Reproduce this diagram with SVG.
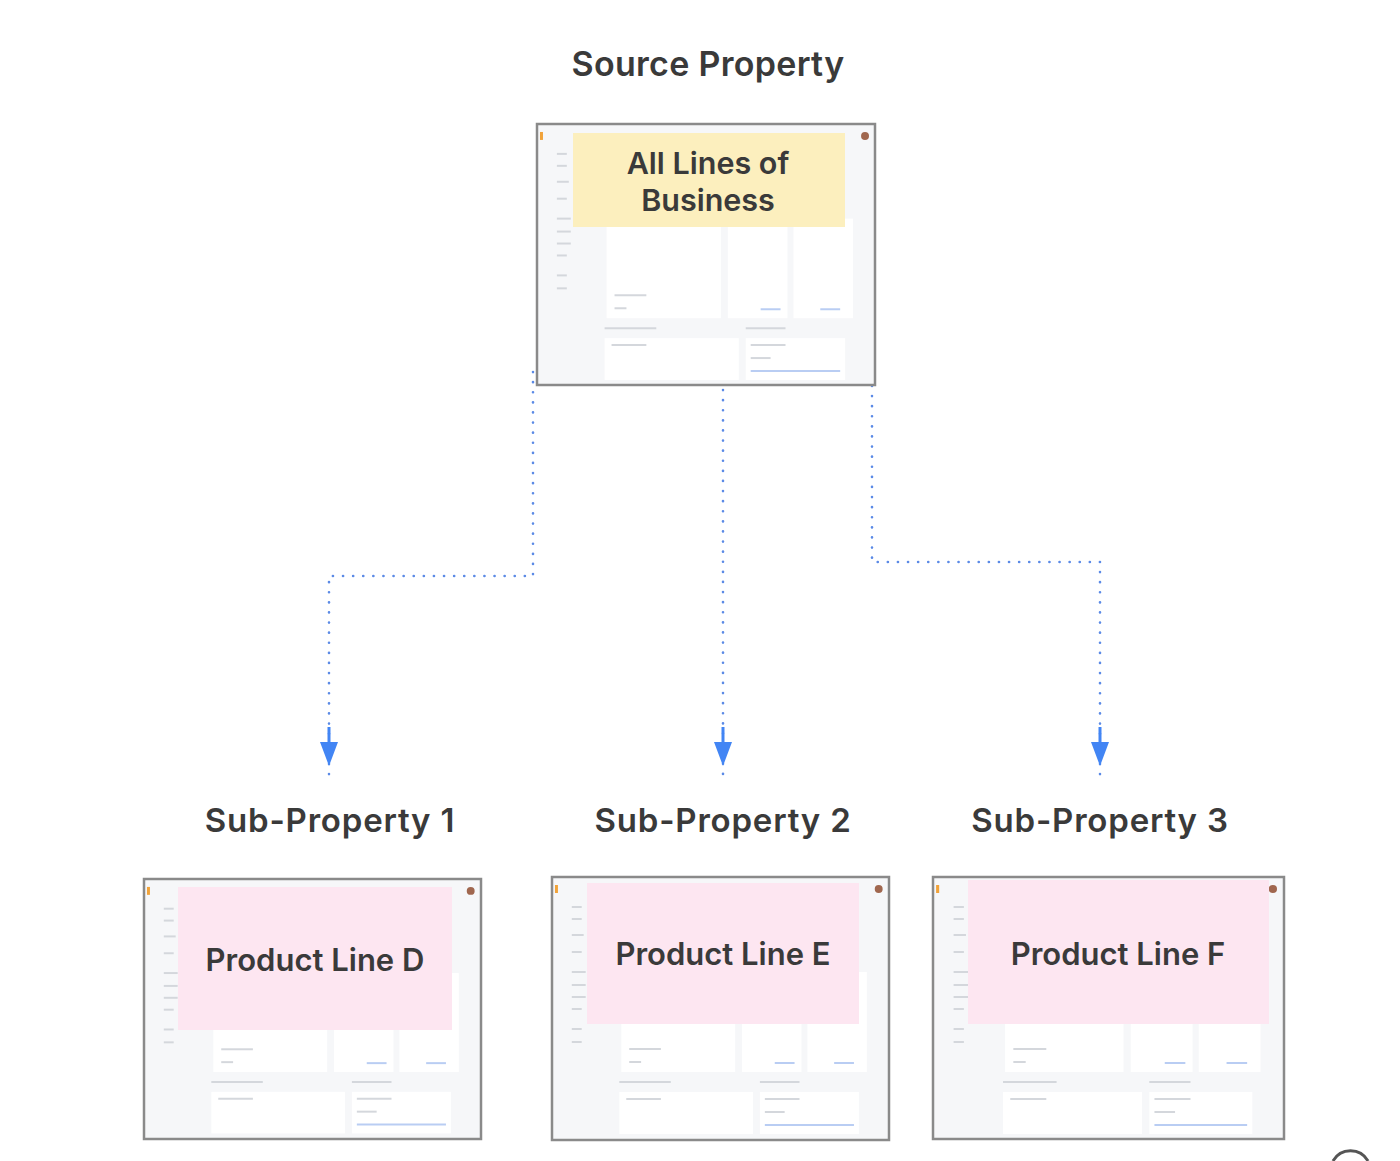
<svg xmlns="http://www.w3.org/2000/svg" width="1400" height="1161" viewBox="0 0 1400 1161">
<defs>
<style>
.title{font-family:Inter,"Open Sans","Liberation Sans",sans-serif;font-weight:600;font-size:34px;letter-spacing:0.3px;fill:#3a3a3a;text-anchor:middle}
.sub{font-family:Inter,"Open Sans","Liberation Sans",sans-serif;font-weight:600;font-size:33px;letter-spacing:0.8px;fill:#3a3a3a;text-anchor:middle}
.lbl{font-family:Inter,"Open Sans","Liberation Sans",sans-serif;font-weight:600;font-size:31px;fill:#3a3a3a;text-anchor:middle}
.frame{fill:#f6f7f9;stroke:#8a8a8a;stroke-width:2.5}
.card{fill:#ffffff}
.faint{stroke:#d4d7dc;stroke-width:2;fill:none}
.blueln{stroke:#b9cdf3;stroke-width:2;fill:none}
.conn{fill:none;stroke:#5b8ae6;stroke-width:2.6;stroke-dasharray:0.1 10;stroke-linecap:round}
</style>
<g id="ui">
<rect class="card" x="70" y="95" width="115" height="100"/>
<rect class="card" x="192" y="95" width="60" height="100"/>
<rect class="card" x="258" y="95" width="60" height="100"/>
<rect class="card" x="68" y="215" width="135" height="42"/>
<rect class="card" x="210" y="215" width="100" height="42"/>
<line class="faint" x1="20" y1="30" x2="30" y2="30"/>
<line class="faint" x1="20" y1="42" x2="30" y2="42"/>
<line class="faint" x1="20" y1="58" x2="32" y2="58"/>
<line class="faint" x1="20" y1="75" x2="30" y2="75"/>
<line class="faint" x1="20" y1="95" x2="34" y2="95"/>
<line class="faint" x1="20" y1="108" x2="34" y2="108"/>
<line class="faint" x1="20" y1="120" x2="34" y2="120"/>
<line class="faint" x1="20" y1="132" x2="30" y2="132"/>
<line class="faint" x1="20" y1="152" x2="30" y2="152"/>
<line class="faint" x1="20" y1="165" x2="30" y2="165"/>
<line class="faint" x1="78" y1="172" x2="110" y2="172"/>
<line class="faint" x1="78" y1="185" x2="90" y2="185"/>
<line class="faint" x1="68" y1="205" x2="120" y2="205"/>
<line class="faint" x1="210" y1="205" x2="250" y2="205"/>
<line class="faint" x1="75" y1="222" x2="110" y2="222"/>
<line class="faint" x1="215" y1="222" x2="250" y2="222"/>
<line class="faint" x1="215" y1="235" x2="235" y2="235"/>
<line class="blueln" x1="215" y1="248" x2="305" y2="248"/>
<line class="blueln" x1="225" y1="186" x2="245" y2="186"/>
<line class="blueln" x1="285" y1="186" x2="305" y2="186"/>
<circle cx="330" cy="12" r="4" fill="#a0674f"/>
<rect x="3" y="8" width="3" height="8" fill="#f1a33a"/>
</g>
</defs>
<rect width="1400" height="1161" fill="#ffffff"/>

<g id="connectors">
<path class="conn" d="M533 372 V576 H329 V782"/>
<path class="conn" d="M723 390 V782"/>
<path class="conn" d="M872 295 V562 H1100 V782"/>
<g fill="#4285f4" stroke="#4285f4">
<line x1="329" y1="727" x2="329" y2="745" stroke-width="3"/>
<polygon points="320,742 338,742 329,766" stroke="none"/>
<line x1="723" y1="727" x2="723" y2="745" stroke-width="3"/>
<polygon points="714,742 732,742 723,766" stroke="none"/>
<line x1="1100" y1="727" x2="1100" y2="745" stroke-width="3"/>
<polygon points="1091,742 1109,742 1100,766" stroke="none"/>
</g>
</g>

<g id="source">
<text class="title" x="708" y="76">Source Property</text>
<rect class="frame" x="537" y="124" width="338" height="261"/>
<use href="#ui" transform="translate(537,124) scale(0.994,0.996)"/>
<rect x="573" y="133" width="272" height="94" fill="#fcefbe"/>
<text class="lbl" x="708" y="174" style="font-size:30.5px">All Lines of</text>
<text class="lbl" x="708" y="211" style="font-size:30.5px">Business</text>
</g>

<g id="sub1">
<text class="sub" x="330" y="832">Sub-Property 1</text>
<rect class="frame" x="144" y="879" width="337" height="260"/>
<use href="#ui" transform="translate(144,879) scale(0.99,0.99)"/>
<rect x="178" y="887" width="274" height="143" fill="#fde6f1"/>
<text class="lbl" x="315" y="971">Product Line D</text>
</g>

<g id="sub2">
<text class="sub" x="723" y="832">Sub-Property 2</text>
<rect class="frame" x="552" y="877" width="337" height="263"/>
<use href="#ui" transform="translate(552,877) scale(0.99,1)"/>
<rect x="587" y="883" width="272" height="141" fill="#fde6f1"/>
<text class="lbl" x="723" y="965">Product Line E</text>
</g>

<g id="sub3">
<text class="sub" x="1100" y="832">Sub-Property 3</text>
<rect class="frame" x="933" y="877" width="351" height="262"/>
<use href="#ui" transform="translate(933,877) scale(1.03,1)"/>
<rect x="968" y="880" width="301" height="144" fill="#fde6f1"/>
<text class="lbl" x="1118" y="965">Product Line F</text>
</g>

<path d="M1333 1161 A20 20 0 0 1 1368 1161" fill="none" stroke="#555" stroke-width="3"/>
</svg>
